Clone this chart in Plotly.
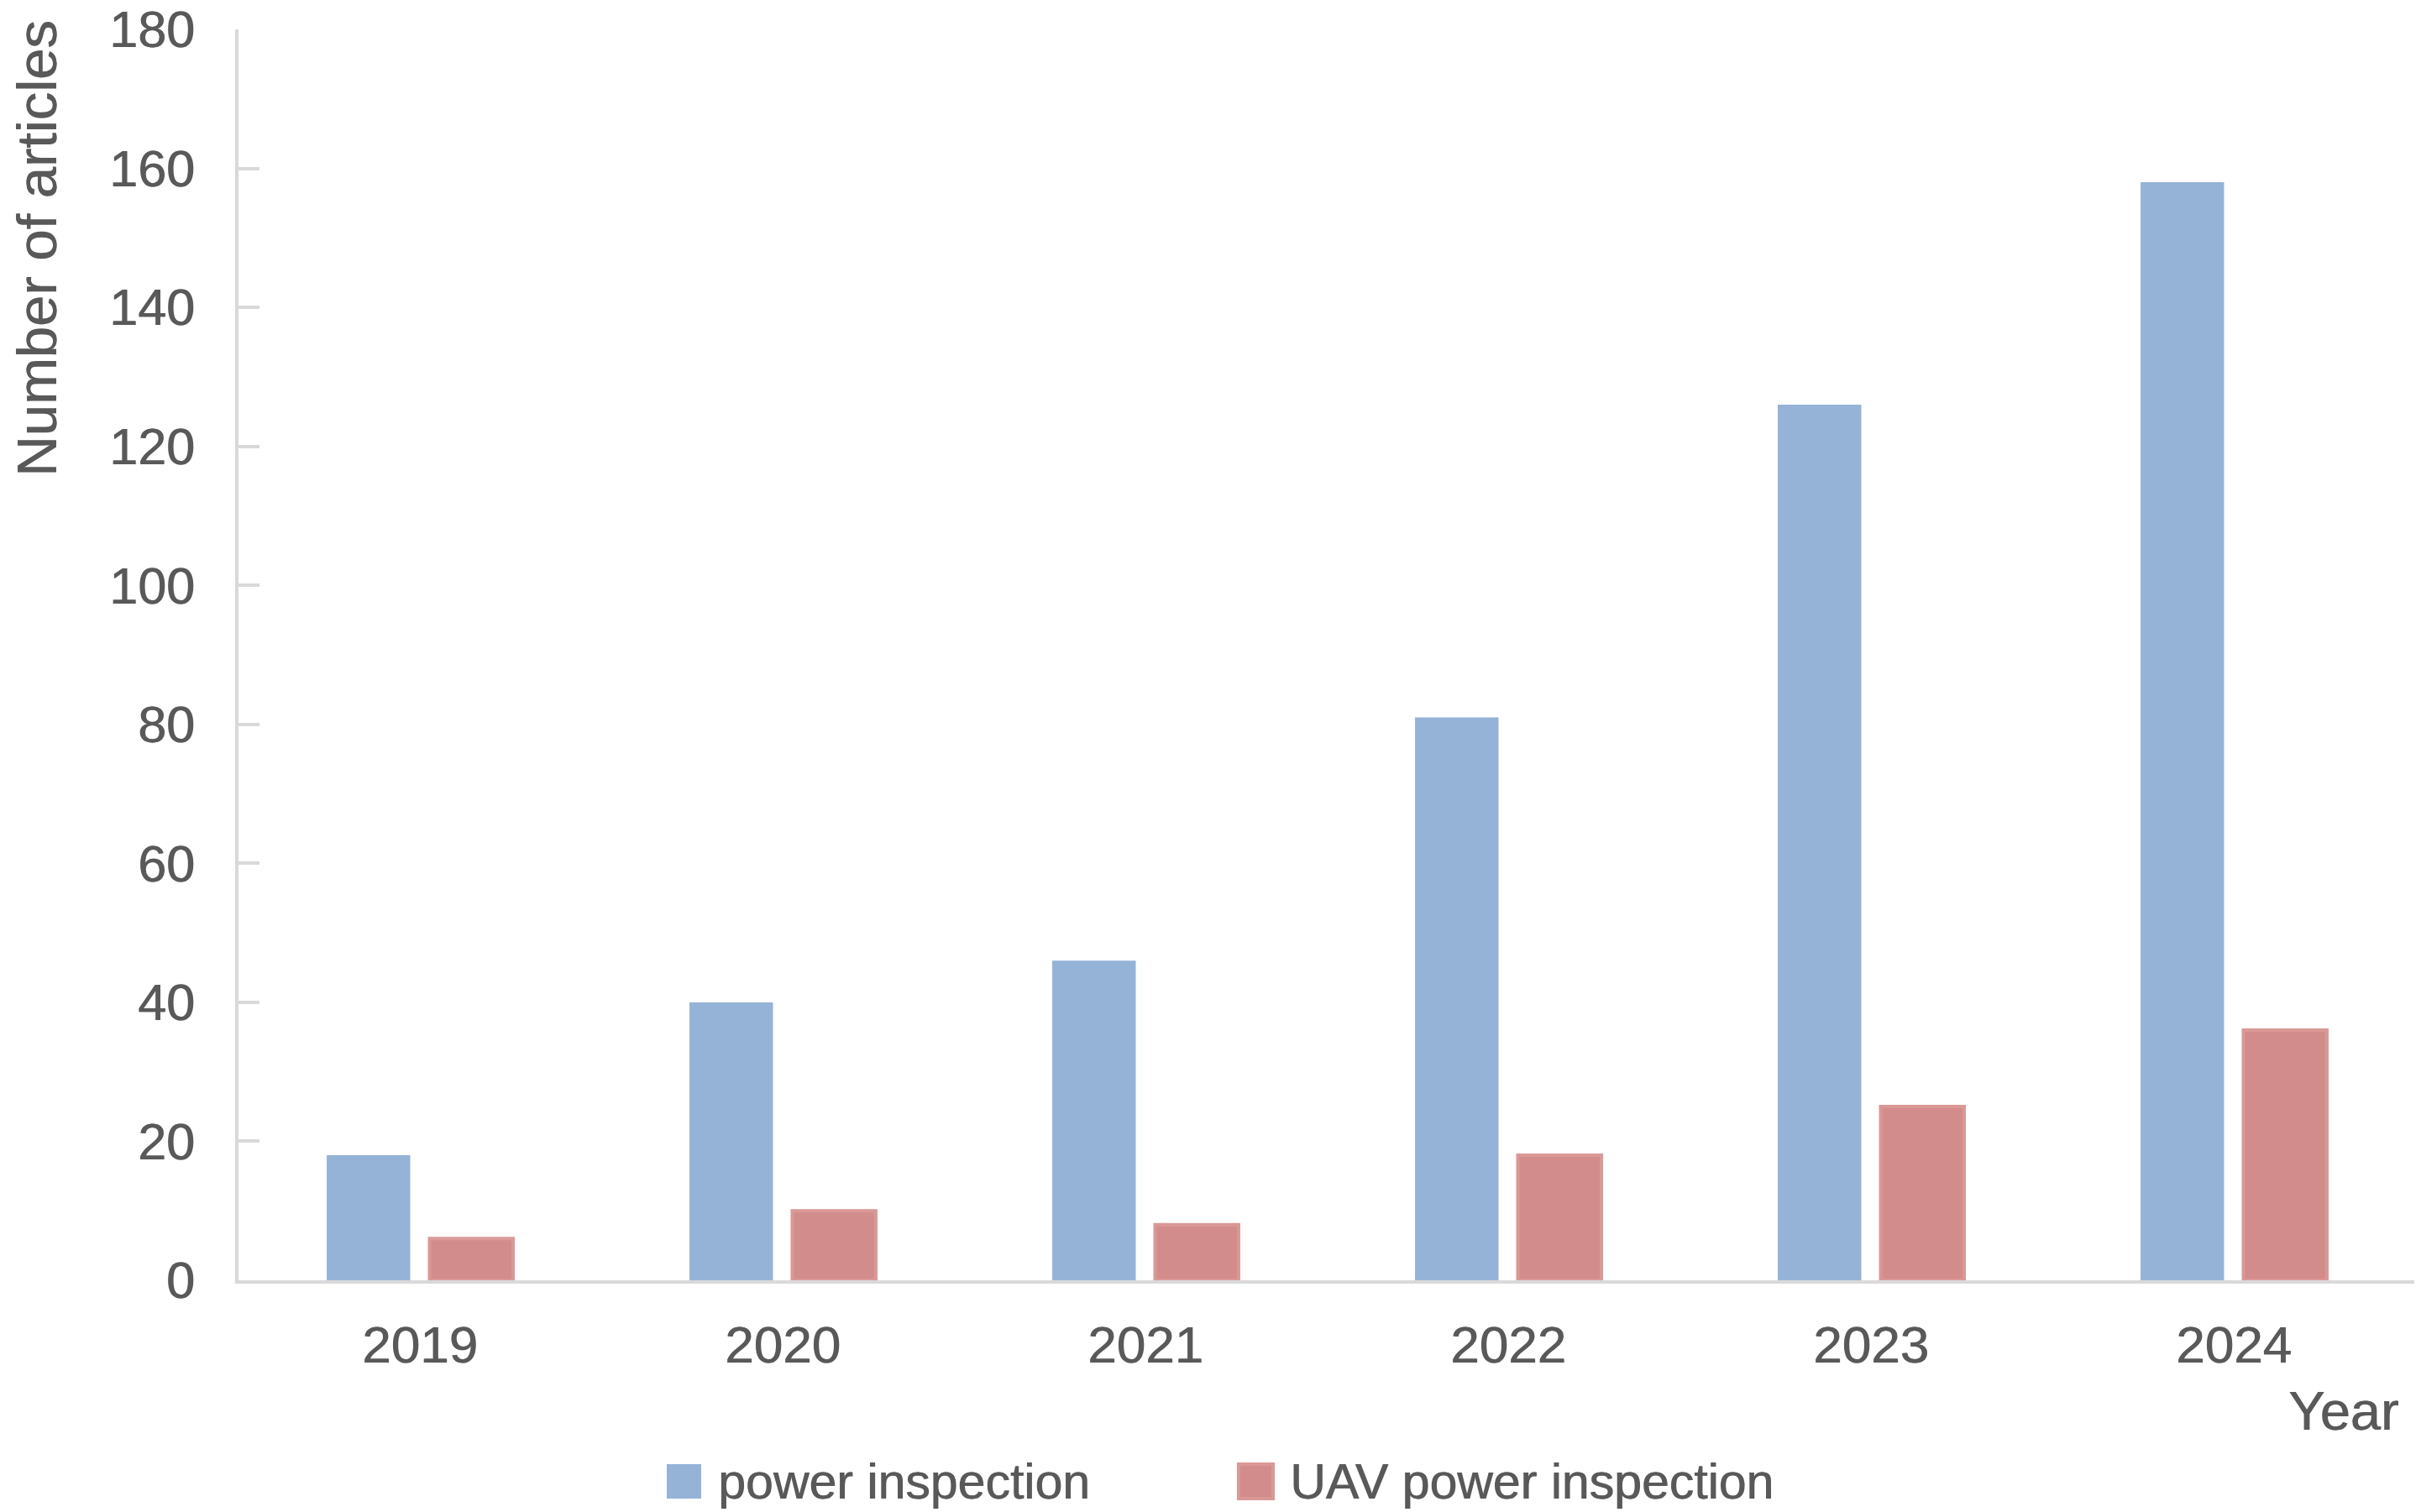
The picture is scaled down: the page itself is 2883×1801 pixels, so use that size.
import plotly.graph_objects as go

years = ["2019", "2020", "2021", "2022", "2023", "2024"]
power_inspection = [18, 40, 46, 81, 126, 158]
uav_power_inspection = [6, 10, 8, 18, 25, 36]
series_names = ["power inspection", "UAV power inspection"]
y_ticks = [0, 20, 40, 60, 80, 100, 120, 140, 160, 180]

W, H = 2883, 1801
L, R, T, B = 276, 15, 27, 284
PW, PH = W - L - R, H - T - B

def px(xp):
    return (xp - L) / PW

def py(yp):
    return (H - B - yp) / PH

BLUE = "#95B3D7"
RED = "#D28C8B"
RED_EDGE = "#DA9896"
TXT = "#595959"
AX = "#D9D9D9"
FONT = "Liberation Sans, Arial, sans-serif"
SHADOW = "0.8px 0px 0px #595959"

def f(size):
    return dict(family=FONT, size=size, color=TXT, shadow=SHADOW)

fig = go.Figure()
fig.add_trace(go.Bar(x=years, y=power_inspection, name=series_names[0],
                     marker=dict(color=BLUE, line=dict(width=0)), showlegend=False))
fig.add_trace(go.Bar(x=years, y=uav_power_inspection, name=series_names[1],
                     marker=dict(color=RED, line=dict(color=RED_EDGE, width=4)), showlegend=False))

fig.update_layout(
    width=W, height=H,
    margin=dict(l=L, r=R, t=T, b=B, autoexpand=False),
    paper_bgcolor="white", plot_bgcolor="white",
    barmode="group", bargap=0.433, bargroupgap=0.188,
    font=dict(family=FONT, color=TXT, size=60),
)
fig.update_xaxes(
    type="category", automargin=False, showgrid=False, showline=True,
    linecolor=AX, linewidth=4, ticks="", tickfont=f(62), ticklabelstandoff=20,
)
fig.update_yaxes(
    range=[0, 180], tickvals=y_ticks, automargin=False, showgrid=False,
    zeroline=False, showline=True, linecolor=AX, linewidth=4,
    ticks="inside", ticklen=25, tickwidth=4, tickcolor=AX,
    tickfont=f(61), ticklabelstandoff=36, ticklabeloverflow="allow",
)

# axis titles
fig.add_annotation(text="Number of articles", xref="paper", yref="paper",
                   x=px(35), y=py(14), xanchor="center", yanchor="top",
                   textangle=-90, showarrow=False, font=f(67))
fig.add_annotation(text="Year", xref="paper", yref="paper",
                   x=px(2850), y=py(1672), xanchor="right", yanchor="middle",
                   showarrow=False, font=f(65))

# legend (drawn keys + text)
legend_items = [(series_names[0], BLUE, BLUE, 786, 827, 845),
                (series_names[1], RED, RED_EDGE, 1467, 1508, 1526)]
for name, fill, edge, sx0, sx1, tx in legend_items:
    fig.add_shape(type="rect", xref="paper", yref="paper",
                  x0=px(sx0), x1=px(sx1), y0=py(1736), y1=py(1777),
                  fillcolor=fill, line=dict(color=edge, width=4 if edge != fill else 0))
    fig.add_annotation(text=name, xref="paper", yref="paper",
                       x=px(tx), y=py(1757), xanchor="left", yanchor="middle",
                       showarrow=False, font=f(59))

fig.write_html("out.html")
